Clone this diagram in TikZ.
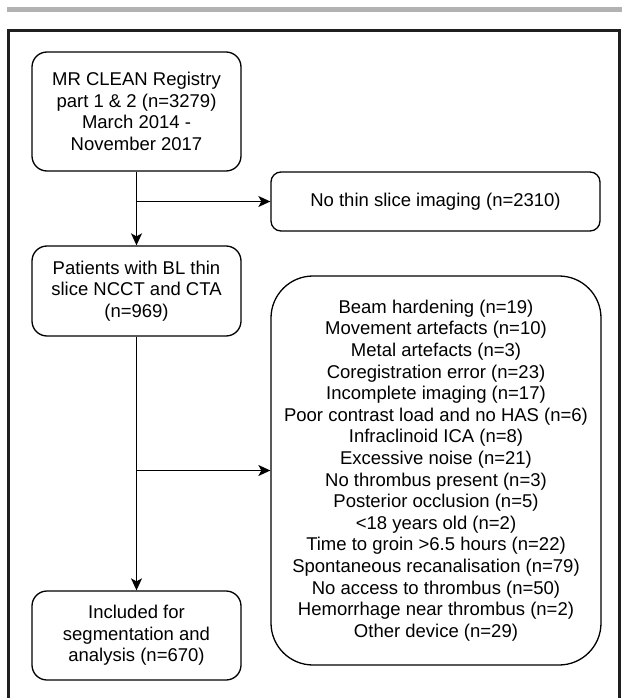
\documentclass[tikz,border=0pt]{standalone}
\usepackage{fontspec}
\setmainfont{Liberation Sans}
\usetikzlibrary{arrows.meta}
\tikzset{
 flowbox/.style={draw,line width=1.3pt,rounded corners=15pt,align=center,inner sep=2pt,
  font=\fontsize{18.5}{21.6}\selectfont},
 flowarrow/.style={line width=1.3pt,-{Stealth[length=12pt,width=11pt,inset=3pt]}}
}
\begin{document}
\begin{tikzpicture}[x=1pt,y=-1pt]
 \useasboundingbox (0,0) rectangle (622,698);
 \fill[gray!60](7.3,7.3) rectangle (622,12.3);
 \draw[line width=3pt,black!88](8.7,30.5) rectangle (619.2,720);
 \node[flowbox,minimum width=209pt,minimum height=119pt] (registry) at (136.5,111.5)
  {MR CLEAN Registry\\part 1 \& 2 (n=3279)\\March 2014 -\\November 2017};
 \node[flowbox,minimum width=329pt,minimum height=59pt,rounded corners=10pt] (nothin) at (435.5,201.5)
  {No thin slice imaging (n=2310)};
 \node[flowbox,minimum width=209pt,minimum height=90pt] (patients) at (136.5,291)
  {Patients with BL thin\\slice NCCT and CTA\\(n=969)};
 \node[flowbox,minimum width=330pt,minimum height=389pt,rounded corners=42pt] (excluded) at (436,470.5)
  {Beam hardening (n=19)\\Movement artefacts (n=10)\\Metal artefacts (n=3)\\Coregistration error (n=23)\\
   Incomplete imaging (n=17)\\Poor contrast load and no HAS (n=6)\\Infraclinoid ICA (n=8)\\
   Excessive noise (n=21)\\No thrombus present (n=3)\\Posterior occlusion (n=5)\\<18 years old (n=2)\\
   Time to groin >6.5 hours (n=22)\\Spontaneous recanalisation (n=79)\\No access to thrombus (n=50)\\
   Hemorrhage near thrombus (n=2)\\Other device (n=29)};
 \node[flowbox,minimum width=209pt,minimum height=89pt] (included) at (136.5,635.5)
  {Included for\\segmentation and\\analysis (n=670)};
 \draw[flowarrow](registry.south) -- (patients.north);
 \draw[flowarrow](registry.south |- nothin.west) -- (nothin.west);
 \draw[flowarrow](patients.south) -- (included.north);
 \draw[flowarrow](patients.south |- excluded.west) -- (excluded.west);
\end{tikzpicture}
\end{document}
